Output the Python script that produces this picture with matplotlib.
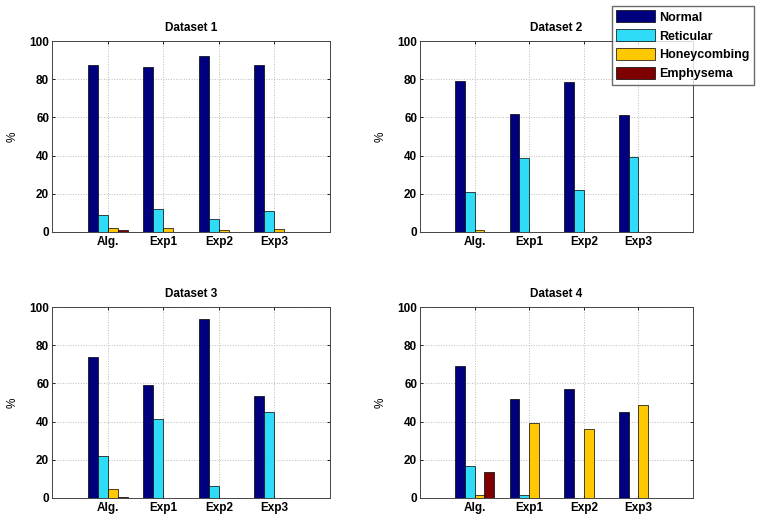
import matplotlib
matplotlib.use("Agg")
import matplotlib.pyplot as plt
from matplotlib.patches import Patch
import numpy as np

CATEGORIES = ["Alg.", "Exp1", "Exp2", "Exp3"]
SERIES = ["Normal", "Reticular", "Honeycombing", "Emphysema"]
COLORS = ["#00007F", "#2EDCF8", "#FFC800", "#7F0000"]

# values per dataset: rows = series (Normal, Reticular, Honeycombing, Emphysema), cols = categories
DATASET_1 = [
    [87.5, 86.5, 92.0, 87.5],
    [8.8, 11.8, 6.6, 10.9],
    [2.1, 2.0, 0.8, 1.8],
    [1.1, 0.0, 0.0, 0.0],
]
DATASET_2 = [
    [79.0, 62.0, 78.5, 61.2],
    [20.7, 38.6, 21.8, 39.5],
    [1.0, 0.0, 0.0, 0.0],
    [0.0, 0.0, 0.0, 0.0],
]
DATASET_3 = [
    [73.8, 59.0, 93.5, 53.2],
    [21.9, 41.5, 6.3, 44.8],
    [4.6, 0.0, 0.0, 0.0],
    [0.3, 0.0, 0.0, 0.0],
]
DATASET_4 = [
    [69.0, 52.0, 57.0, 44.8],
    [16.5, 1.6, 0.0, 0.0],
    [1.5, 39.5, 36.0, 48.5],
    [13.5, 0.0, 0.0, 0.0],
]
DATASETS = [DATASET_1, DATASET_2, DATASET_3, DATASET_4]
TITLES = ["Dataset 1", "Dataset 2", "Dataset 3", "Dataset 4"]

W, H = 771, 522
# axes boxes in pixels: left, top, right, bottom
BOXES = [
    (52, 41, 330, 232),
    (420, 41, 693, 232),
    (52, 307, 330, 498),
    (420, 307, 693, 498),
]
FS = 8.5

plt.rcParams["font.family"] = ["Liberation Sans", "DejaVu Sans"]
plt.rcParams["font.weight"] = "bold"

fig = plt.figure(figsize=(W / 100, H / 100), dpi=100)

x = np.arange(1, len(CATEGORIES) + 1)
bw = 0.18
offsets = (np.arange(len(SERIES)) - 1.5) * bw

for data, title, (l, t, r, b) in zip(DATASETS, TITLES, BOXES):
    ax = fig.add_axes([l / W, 1 - b / H, (r - l) / W, (b - t) / H])
    for i, (vals, color) in enumerate(zip(data, COLORS)):
        ax.bar(x + offsets[i], vals, width=bw, color=color,
               edgecolor="black", linewidth=0.5, zorder=3)
    ax.set_xlim(0, 5)
    ax.set_ylim(0, 100)
    ax.set_xticks(x)
    ax.set_xticklabels(CATEGORIES, fontsize=FS, fontweight="bold")
    ax.set_yticks(np.arange(0, 101, 20))
    ax.tick_params(axis="y", labelsize=FS, pad=2)
    ax.tick_params(axis="x", pad=3)
    ax.tick_params(direction="in", length=2.5, width=0.6, top=True, right=True)
    ax.grid(True, linestyle=":", color="#BBBBBB", linewidth=0.7, zorder=0)
    for s in ax.spines.values():
        s.set_linewidth(0.7)
        s.set_color("#444444")
    ax.set_title(title, fontsize=FS, fontweight="bold", pad=7)
    ax.set_ylabel("%", fontsize=FS, labelpad=8)

handles = [Patch(facecolor=c, edgecolor="black", linewidth=0.5, label=s)
           for s, c in zip(SERIES, COLORS)]
fig.legend(handles=handles, loc="upper left",
           bbox_to_anchor=(612 / W, 1 - 6 / H), fontsize=9,
           frameon=True, fancybox=False, edgecolor="#444444",
           handlelength=3.1, handleheight=1.1, handletextpad=0.35,
           labelspacing=0.45, borderpad=0.35, borderaxespad=0.0)

fig.savefig("out.png", dpi=100)
